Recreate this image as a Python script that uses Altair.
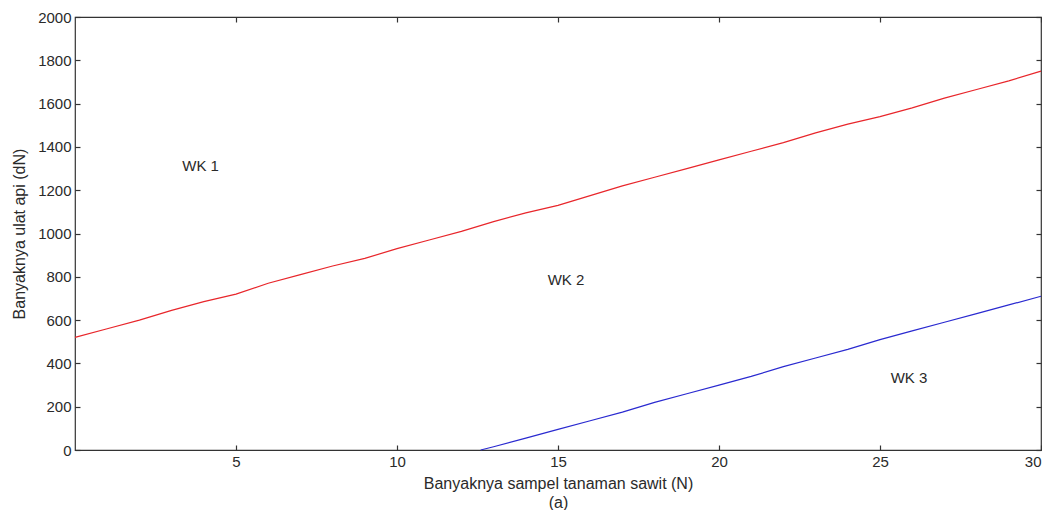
import altair as alt
import pandas as pd

# Red line (upper boundary)
red_x = list(range(0, 31))
red_y = [520, 560, 600, 645, 685, 720, 770, 810, 850, 885, 930, 970, 1010, 1055, 1095,
         1130, 1175, 1220, 1260, 1300, 1340, 1380, 1420, 1465, 1505, 1540, 1580, 1625,
         1665, 1705, 1750]
# Blue line (lower boundary)
blue_x = [12.6, 13, 14, 15, 16, 17, 18, 19, 20, 21, 22, 23, 24, 25, 26, 27, 28, 29, 30]
blue_y = [0, 15, 55, 95, 135, 175, 220, 260, 300, 340, 385, 425, 465, 510, 550, 590,
          630, 670, 710]

label_text = ["WK 1", "WK 2", "WK 3"]
label_x = [3.9, 15.25, 25.9]
label_y = [1310, 785, 333]

x_ticks = [5, 10, 15, 20, 25, 30]
y_ticks = list(range(0, 2001, 200))

lines = pd.DataFrame({
    "x": red_x + blue_x,
    "y": red_y + blue_y,
    "s": ["red"] * len(red_x) + ["blue"] * len(blue_x),
})
labels = pd.DataFrame({"t": label_text, "x": label_x, "y": label_y})

FONT = "Liberation Sans"
xs = alt.Scale(domain=[0, 30], nice=False, zero=False)
ys = alt.Scale(domain=[0, 2000], nice=False)

line_layer = alt.Chart(lines).mark_line(strokeWidth=1.2).encode(
    x=alt.X("x:Q", scale=xs,
            axis=alt.Axis(orient="bottom", values=x_ticks, domain=False, grid=False,
                          offset=-5, tickSize=5, labelPadding=4, format="d",
                          title=["Banyaknya sampel tanaman sawit (N)", "(a)"],
                          titlePadding=6, titleLineHeight=19, titleFontSize=16)),
    y=alt.Y("y:Q", scale=ys,
            axis=alt.Axis(orient="left", values=y_ticks, domain=False, grid=False,
                          offset=-5, tickSize=5, labelPadding=4, format="d",
                          title="Banyaknya ulat api (dN)", titlePadding=10,
                          titleFontSize=16)),
    color=alt.Color("s:N", scale=alt.Scale(domain=["red", "blue"],
                                           range=["#e8262b", "#2a2ad0"]), legend=None),
    detail="s:N",
)

text_layer = alt.Chart(labels).mark_text(font=FONT, fontSize=15, color="#2a2a2a").encode(
    x=alt.X("x:Q", scale=xs,
            axis=alt.Axis(orient="top", values=x_ticks, domain=False, grid=False,
                          offset=-5, tickSize=5, labels=False, title=None)),
    y=alt.Y("y:Q", scale=ys,
            axis=alt.Axis(orient="right", values=y_ticks, domain=False, grid=False,
                          offset=-5, tickSize=5, labels=False, title=None)),
    text="t:N",
)

chart = alt.layer(line_layer, text_layer).resolve_axis(
    x="independent", y="independent"
).properties(
    width=966, height=433,
    autosize=alt.AutoSizeParams(type="none"),
    padding={"left": 67, "top": 9, "right": 1, "bottom": 60},
).configure_view(
    stroke="#333333", strokeWidth=1.2
).configure_axis(
    labelFont=FONT, titleFont=FONT, labelFontSize=15,
    titleFontWeight="normal", labelColor="#2a2a2a", titleColor="#2a2a2a",
    tickColor="#333333", tickWidth=1.2
)

chart.save("out.html", embed_options={"renderer": "svg", "actions": False})
